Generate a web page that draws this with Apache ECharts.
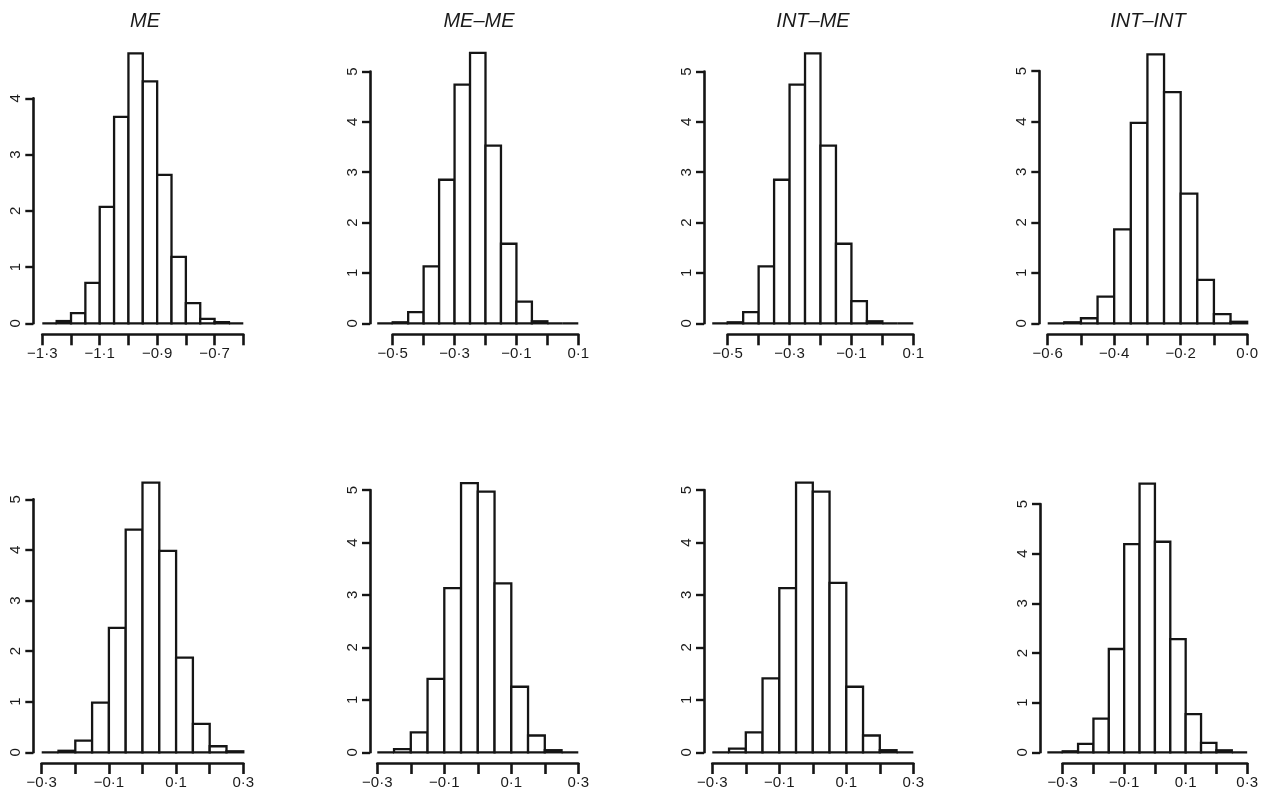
<!DOCTYPE html>
<html>
<head>
<meta charset="utf-8">
<script src="https://cdn.jsdelivr.net/npm/echarts@6/dist/echarts.min.js"></script>
<style>
  html, body { margin: 0; padding: 0; background: #fff; }
  #chart { width: 1261px; height: 790px; }
</style>
</head>
<body>
<div id="chart"></div>
<script>
// column titles
var titles = ['ME', 'ME\u2013ME', 'INT\u2013ME', 'INT\u2013INT'];

// bin edges (width 0.05) and densities
var edgesMe     = [-1.3, -1.25, -1.2, -1.15, -1.1, -1.05, -1.0, -0.95, -0.9, -0.85, -0.8, -0.75, -0.7, -0.65, -0.6];
var densMe      = [0.00, 0.04, 0.18, 0.72, 2.07, 3.67, 4.80, 4.30, 2.64, 1.18, 0.36, 0.08, 0.02, 0.00];

var edgesMeMe   = [-0.55, -0.5, -0.45, -0.4, -0.35, -0.3, -0.25, -0.2, -0.15, -0.1, -0.05, 0.0, 0.05, 0.1];
var densMeMe    = [0.00, 0.02, 0.22, 1.13, 2.85, 4.74, 5.37, 3.53, 1.58, 0.43, 0.04, 0.00, 0.00];

var edgesIntMe  = [-0.55, -0.5, -0.45, -0.4, -0.35, -0.3, -0.25, -0.2, -0.15, -0.1, -0.05, 0.0, 0.05, 0.1];
var densIntMe   = [0.00, 0.02, 0.22, 1.13, 2.85, 4.74, 5.36, 3.53, 1.58, 0.44, 0.04, 0.00, 0.00];

var edgesIntInt = [-0.6, -0.55, -0.5, -0.45, -0.4, -0.35, -0.3, -0.25, -0.2, -0.15, -0.1, -0.05, 0.0];
var densIntInt  = [0.00, 0.02, 0.10, 0.53, 1.86, 3.97, 5.33, 4.58, 2.57, 0.86, 0.18, 0.03];

var edgesB1     = [-0.3, -0.25, -0.2, -0.15, -0.1, -0.05, 0.0, 0.05, 0.1, 0.15, 0.2, 0.25, 0.3];
var densB1      = [0.00, 0.03, 0.23, 0.98, 2.46, 4.40, 5.33, 3.98, 1.87, 0.56, 0.12, 0.02];

var edgesB2     = [-0.3, -0.25, -0.2, -0.15, -0.1, -0.05, 0.0, 0.05, 0.1, 0.15, 0.2, 0.25, 0.3];
var densB2      = [0.00, 0.06, 0.38, 1.40, 3.13, 5.13, 4.97, 3.22, 1.25, 0.32, 0.04, 0.00];

var edgesB3     = [-0.3, -0.25, -0.2, -0.15, -0.1, -0.05, 0.0, 0.05, 0.1, 0.15, 0.2, 0.25, 0.3];
var densB3      = [0.00, 0.07, 0.38, 1.41, 3.13, 5.14, 4.97, 3.23, 1.25, 0.32, 0.04, 0.00];

var edgesB4     = [-0.35, -0.3, -0.25, -0.2, -0.15, -0.1, -0.05, 0.0, 0.05, 0.1, 0.15, 0.2, 0.25, 0.3];
var densB4      = [0.00, 0.02, 0.17, 0.68, 2.08, 4.19, 5.41, 4.24, 2.28, 0.77, 0.19, 0.04, 0.00];

// axis ranges (tick from / tick to) per panel
var xMin = [-1.3, -0.5, -0.5, -0.6, -0.3, -0.3, -0.3, -0.3];
var xMax = [-0.6,  0.1,  0.1,  0.0,  0.3,  0.3,  0.3,  0.3];
var yMax = [4, 5, 5, 5, 5, 5, 5, 5];

var panels = [
  [edgesMe, densMe], [edgesMeMe, densMeMe], [edgesIntMe, densIntMe], [edgesIntInt, densIntInt],
  [edgesB1, densB1], [edgesB2, densB2], [edgesB3, densB3], [edgesB4, densB4]
];

// layout in pixels: grid = tick range, offsets push axes away like R does
var gridBox = [
  {left: 42.3,  right: 1017.7, top: 98.3, bottom: 466.7, yOff: 9,    xOff: 11},
  {left: 392.7, right: 682.7,  top: 71.5, bottom: 466.7, yOff: 22.7, xOff: 11},
  {left: 727.7, right: 347.7,  top: 71.5, bottom: 466.7, yOff: 23.7, xOff: 11},
  {left: 1047.7,right: 12,     top: 71,   bottom: 466.7, yOff: 8.4,  xOff: 11},
  {left: 41.7,  right: 1017.7, top: 499.3,bottom: 36.7,  yOff: 8.4,  xOff: 10.7},
  {left: 377.3, right: 682.7,  top: 490,  bottom: 36.7,  yOff: 7.3,  xOff: 10.7},
  {left: 712.3, right: 347.7,  top: 490,  bottom: 36.7,  yOff: 8.3,  xOff: 10.7},
  {left: 1062.7,right: 12,     top: 504,  bottom: 36.7,  yOff: 22.7, xOff: 10.7}
];
var titleX = [145, 479, 813, 1148];

var ink = '#151515';
var font = 'Liberation Sans, Arial, Helvetica, sans-serif';

function fmtTick(v, idx) {
  if (idx % 2 !== 0) return '';
  return v.toFixed(1).replace('-', '\u2212').replace('.', '\u00b7');
}

var grids = [], xAxes = [], yAxes = [], series = [];
panels.forEach(function (p, i) {
  var g = gridBox[i];
  grids.push({left: g.left, right: g.right, top: g.top, bottom: g.bottom, containLabel: false});
  xAxes.push({
    type: 'value', gridIndex: i, min: xMin[i], max: xMax[i], interval: 0.1,
    offset: g.xOff, position: 'bottom',
    axisLine: {show: true, onZero: false, lineStyle: {color: ink, width: 2.6}},
    axisTick: {show: true, length: 11, lineStyle: {color: ink, width: 2.6}},
    axisLabel: {
      show: true, margin: 12, color: '#1a1a1a', fontSize: 15, fontFamily: font,
      showMinLabel: true, showMaxLabel: true, hideOverlap: false,
      formatter: fmtTick
    },
    splitLine: {show: false}
  });
  yAxes.push({
    type: 'value', gridIndex: i, min: 0, max: yMax[i], interval: 1,
    offset: g.yOff, position: 'left',
    axisLine: {show: true, onZero: false, lineStyle: {color: ink, width: 2.6}},
    axisTick: {show: true, length: 8, lineStyle: {color: ink, width: 2.4}},
    axisLabel: {show: true, rotate: 90, margin: 10, color: '#1a1a1a', fontSize: 15, fontFamily: font},
    splitLine: {show: false}
  });
  var edges = p[0], dens = p[1];
  var data = [];
  for (var k = 0; k < dens.length; k++) {
    data.push([edges[k], edges[k + 1], dens[k]]);
  }
  series.push({
    type: 'custom', xAxisIndex: i, yAxisIndex: i, clip: false,
    data: data,
    encode: {x: [0, 1], y: 2},
    renderItem: function (params, api) {
      var p0 = api.coord([api.value(0), 0]);
      var p1 = api.coord([api.value(1), api.value(2)]);
      return {
        type: 'rect',
        shape: {x: p0[0], y: p1[1], width: p1[0] - p0[0], height: p0[1] - p1[1]},
        style: {fill: '#fff', stroke: ink, lineWidth: 2.3}
      };
    }
  });
});

var myChart = echarts.init(document.getElementById('chart'), null, {renderer: 'canvas'});
myChart.setOption({
  backgroundColor: '#fff',
  animation: false,
  title: titles.map(function (t, i) {
    return {
      text: t, left: titleX[i], top: 11, textAlign: 'center', padding: 0,
      textStyle: {fontSize: 20, fontStyle: 'italic', fontWeight: 'normal', color: '#1a1a1a', fontFamily: font}
    };
  }),
  grid: grids,
  xAxis: xAxes,
  yAxis: yAxes,
  series: series
});
</script>
</body>
</html>
